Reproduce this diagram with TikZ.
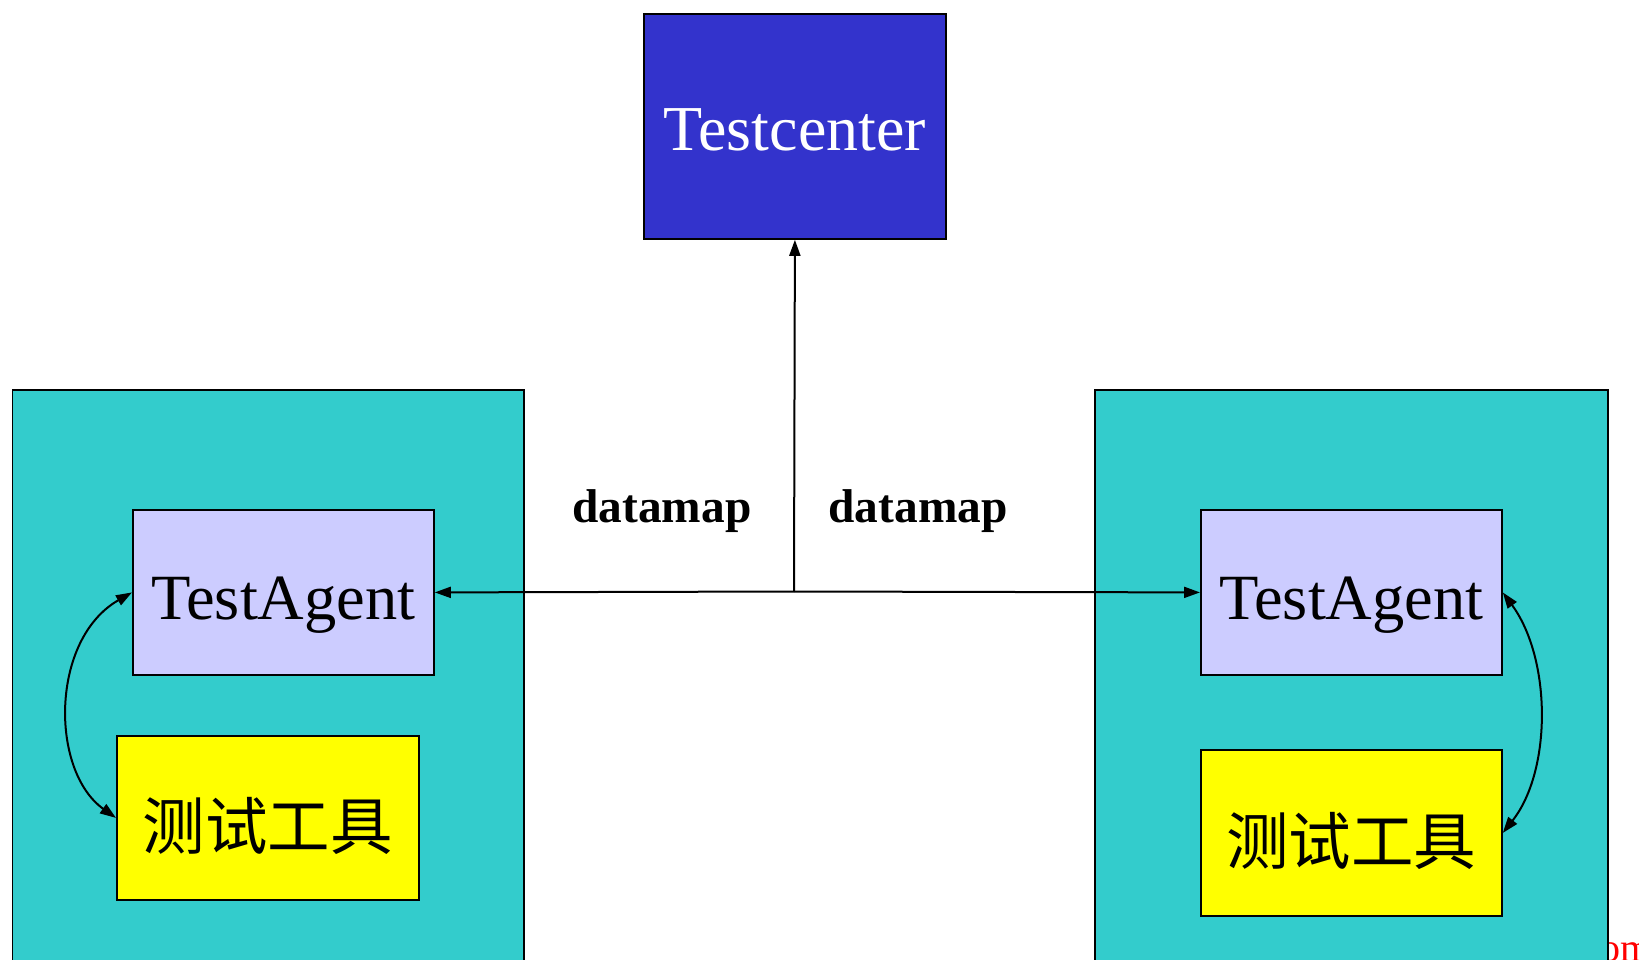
\documentclass[tikz,border=0pt]{standalone}
\usepackage{fontspec}
\setmainfont{Liberation Serif}
\newfontfamily\cjk{Noto Sans CJK SC}
\usetikzlibrary{arrows.meta}
\definecolor{tcblue}{HTML}{3333CC}
\definecolor{tcyan}{HTML}{33CCCC}
\definecolor{tlav}{HTML}{CCCCFF}
\definecolor{tyel}{HTML}{FFFF00}
\tikzset{
  boxbase/.style={draw=black, line width=1.8pt, inner sep=0pt, anchor=north west},
  hostbox/.style={boxbase, fill=tcyan},
  agentbox/.style={boxbase, fill=tlav, minimum width=301pt, minimum height=165pt,
     font=\fontsize{64.5}{70}\selectfont, text height=55pt, text depth=0pt},
  toolbox/.style={boxbase, fill=tyel, minimum width=302pt, minimum height=164pt,
     font=\cjk\fontsize{62.5}{70}\selectfont, text height=63pt, text depth=0pt},
  centerbox/.style={boxbase, fill=tcblue, text=white, minimum width=302pt, minimum height=225pt,
     font=\fontsize{64}{70}\selectfont, text height=49pt, text depth=0pt},
  lbl/.style={font=\bfseries\fontsize{47.4}{52}\selectfont, anchor=base, inner sep=0pt},
  conn/.style={line width=2pt, -{Triangle[length=16pt,width=11pt]}},
  bconn/.style={line width=2pt, {Triangle[length=16pt,width=11pt]}-{Triangle[length=16pt,width=11pt]}},
}
\begin{document}
\begin{tikzpicture}[x=1pt,y=-1pt]
\useasboundingbox (0,0) rectangle (1639,959);
\fill[white] (0,0) rectangle (1639,959);
% watermark fragment
\node[anchor=base west, inner sep=0pt, text=red, font=\fontsize{40}{44}\selectfont] (wm) at (1600,961) {om};
% host boxes
\node[hostbox, minimum width=511.5pt, minimum height=590pt] (lhost) at (11.5,389) {};
\node[hostbox, minimum width=513pt, minimum height=590pt] (rhost) at (1094,389) {};
% test center
\node[centerbox] (tc) at (643,13) {Testcenter};
% agents
\node[agentbox] (lta) at (132,509) {TestAgent};
\node[agentbox] (rta) at (1200,509) {TestAgent};
% tools
\node[toolbox] (ltool) at (116,735) {测试工具};
\node[toolbox, minimum width=301pt, minimum height=166pt] (rtool) at (1200,749) {测试工具};
% labels
\node[lbl] (dl) at (662,522) {datamap};
\node[lbl] (dr) at (918,522) {datamap};
% connectors
\coordinate (hub) at (794,591.5);
\draw[conn] (hub) -- (tc.south);
\draw[conn] (hub) -- (lta.east);
\draw[conn] (hub) -- (rta.west);
\draw[bconn] (lta.west) .. controls +(-82,47) and +(-66,-47) .. (ltool.west);
\draw[bconn] (rta.east) .. controls +(49,67) and +(49,-62) .. (rtool.east);
\end{tikzpicture}
\end{document}
